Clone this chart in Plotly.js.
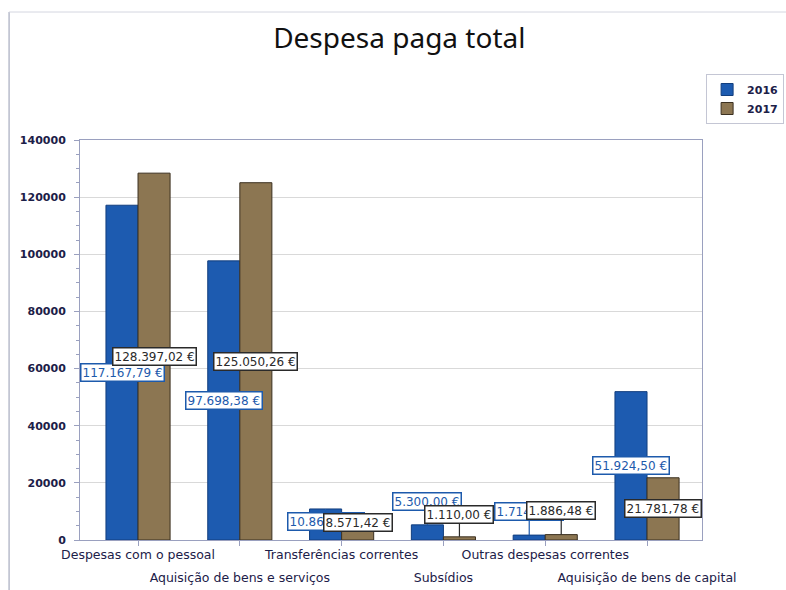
<!DOCTYPE html>
<html>
<head>
<meta charset="utf-8">
<script src="https://cdn.plot.ly/plotly-3.0.1.min.js"></script>
<style>html,body{margin:0;padding:0;background:#fff;}#chart{width:786px;height:590px;}</style>
</head>
<body>
<div id="chart"></div>
<script>
// ---- data ----
const categories = [
  "Despesas com o pessoal",
  "Aquisição de bens e serviços",
  "Transferências correntes",
  "Subsídios",
  "Outras despesas correntes",
  "Aquisição de bens de capital"
];
const values2016 = [117167.79, 97698.38, 10864.00, 5300.00, 1714.00, 51924.50];
const values2017 = [128397.02, 125050.26, 8571.42, 1110.00, 1886.48, 21781.78];
const seriesNames = ["2016", "2017"];
const yTickVals = [0, 20000, 40000, 60000, 80000, 100000, 120000, 140000];

// ---- style ----
const col2016 = "#1d5bb0", col2017 = "#8c7652";
const lab2016 = "#1d5aac", lab2017 = "#2a2a2a";
const txt = "#1c2048";
const axisCol = "#9aa0bf";
// pixel offsets (label centre vs. bar top) for labels of short bars
const lift2016 = [null, null, 13, -23, -24, null];
const lift2017 = [null, null, 7, -22, -24, null];
const barShift = 16;
const xRange = [-0.57, 5.54];

function fmt(v) {
  const parts = v.toFixed(2).split(".");
  const intPart = parts[0].replace(/\B(?=(\d{3})+(?!\d))/g, ".");
  return intPart + "," + parts[1] + " €";
}

const traces = [
  {type: "bar", name: seriesNames[0], x: categories, y: values2016,
   marker: {color: col2016, line: {color: "#123e7e", width: 1}}},
  {type: "bar", name: seriesNames[1], x: categories, y: values2017,
   marker: {color: col2017, line: {color: "#3b3020", width: 1}}}
];

function makeLabels(vals, lifts, shift, color, border) {
  return vals.map((v, i) => {
    const base = {
      x: categories[i], xref: "x", yref: "y", xshift: shift,
      text: fmt(v), font: {family: "DejaVu Sans", size: 12, color: color},
      bgcolor: "#ffffff", bordercolor: border, borderwidth: 1.5, borderpad: 1
    };
    if (lifts[i] === null) {
      return Object.assign(base, {y: v / 2, showarrow: false});
    }
    return Object.assign(base, {y: v, showarrow: true, ax: 0, ay: lifts[i],
      arrowhead: 0, arrowwidth: 1.2, arrowcolor: border});
  });
}

const annotations = makeLabels(values2016, lift2016, -barShift, lab2016, "#1d5aac")
  .concat(makeLabels(values2017, lift2017, barShift, lab2017, "#2a2a2a"));

const tickText = categories.map((c, i) =>
  (i % 2 === 1 ? "<br>" : "") + "<span style='font-size:12.5px'>" + c + "</span>");

const layout = {
  width: 786, height: 590,
  margin: {l: 80, r: 84, t: 140, b: 50, autoexpand: false},
  paper_bgcolor: "#ffffff", plot_bgcolor: "#ffffff",
  title: {text: "Despesa paga total", font: {family: "Noto Sans", size: 28, color: "#111111"},
          x: 0.508, xref: "container", y: 0.935, yref: "container", yanchor: "middle"},
  barmode: "group", bargap: 0.37, bargroupgap: 0,
  showlegend: true,
  legend: {x: 1.132, y: 1.165, xanchor: "right", yanchor: "top",
           bgcolor: "#ffffff", bordercolor: "#c4c6d4", borderwidth: 1,
           font: {family: "DejaVu Sans", size: 11, color: txt, weight: "bold"},
           itemwidth: 30, tracegroupgap: 2},
  xaxis: {type: "category", range: xRange, tickmode: "array", tickvals: categories, ticktext: tickText,
          tickangle: 0, tickfont: {family: "DejaVu Sans", size: 17, color: txt},
          ticks: "outside", ticklen: 5, tickcolor: axisCol, ticklabelstandoff: -7,
          showline: true, linecolor: axisCol, linewidth: 1, mirror: true,
          showgrid: false, zeroline: false, automargin: false},
  yaxis: {range: [0, 140000], tickmode: "array", tickvals: yTickVals,
          tickformat: "d", tickfont: {family: "DejaVu Sans", size: 11, color: txt, weight: "bold"},
          ticks: "outside", ticklen: 5, tickcolor: axisCol, ticklabelstandoff: 6,
          minor: {dtick: 5000, ticks: "outside", ticklen: 3, tickcolor: axisCol, showgrid: false},
          showline: true, linecolor: axisCol, linewidth: 1, mirror: true,
          showgrid: true, gridcolor: "#d9d9d9", gridwidth: 1, zeroline: false, automargin: false},
  annotations: annotations,
  shapes: [
    {type: "line", xref: "paper", yref: "paper", x0: -0.114, x1: -0.114, y0: -0.2, y1: 1.32,
     line: {color: "#b8bccb", width: 1.5}},
    {type: "line", xref: "paper", yref: "paper", x0: -0.114, x1: 1.2, y0: 1.32, y1: 1.32,
     line: {color: "#d4d6e0", width: 1}}
  ]
};

Plotly.newPlot("chart", traces, layout, {displayModeBar: false, staticPlot: true});
</script>
</body>
</html>
